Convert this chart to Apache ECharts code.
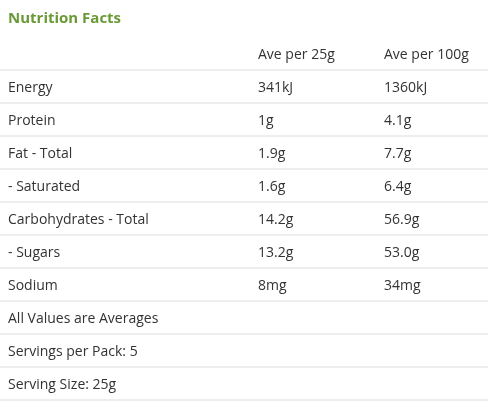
<!DOCTYPE html>
<html>
<head>
<meta charset="utf-8">
<script src="https://cdn.jsdelivr.net/npm/echarts@6/dist/echarts.min.js"></script>
<style>html,body{margin:0;padding:0;background:#fff}#chart{width:490px;height:411px}</style>
</head>
<body>
<div id="chart"></div>
<script>
// Table content
const title = "Nutrition Facts";
const headers = ["", "Ave per 25g", "Ave per 100g"];
const nutrients = ["Energy", "Protein", "Fat - Total", "- Saturated", "Carbohydrates - Total", "- Sugars", "Sodium"];
const per25g = ["341kJ", "1g", "1.9g", "1.6g", "14.2g", "13.2g", "8mg"];
const per100g = ["1360kJ", "4.1g", "7.7g", "6.4g", "56.9g", "53.0g", "34mg"];
const notes = ["All Values are Averages", "Servings per Pack: 5", "Serving Size: 25g"];

const rows = [headers];
nutrients.forEach((n, i) => rows.push([n, per25g[i], per100g[i]]));
notes.forEach((n) => rows.push([n, "", ""]));

const colX = [8, 258, 384];
const font = '14px "Open Sans", Lato, sans-serif';

const chart = echarts.init(document.getElementById("chart"));

chart.setOption({
  backgroundColor: "#fff",
  title: {
    text: title,
    left: 3,
    top: 6,
    textStyle: { color: "#6a9a35", fontSize: 15, fontWeight: "bold", fontFamily: "Open Sans, sans-serif" },
  },
  grid: { left: 0, right: 0, top: 37, bottom: 11 },
  xAxis: { type: "value", min: 0, max: 490, show: false },
  yAxis: { type: "category", data: rows.map((r, i) => i), inverse: true, show: false },
  series: [
    {
      type: "custom",
      data: rows.map((r, i) => [0, i]),
      renderItem: (params, api) => {
        const idx = api.value(1);
        const row = rows[idx];
        const c = api.coord([0, idx]);
        const h = api.size([0, 1])[1];
        const children = row.map((t, j) => ({
          type: "text",
          style: {
            text: t,
            x: api.coord([colX[j], idx])[0],
            y: c[1] + 2,
            verticalAlign: "middle",
            fill: "#333",
            font,
          },
        }));
        children.push({
          type: "line",
          shape: { x1: api.coord([0, idx])[0], y1: c[1] + h / 2, x2: api.coord([488, idx])[0], y2: c[1] + h / 2 },
          style: { stroke: "#dcdcdc", lineWidth: 1 },
        });
        return { type: "group", children };
      },
    },
  ],
});
</script>
</body>
</html>
